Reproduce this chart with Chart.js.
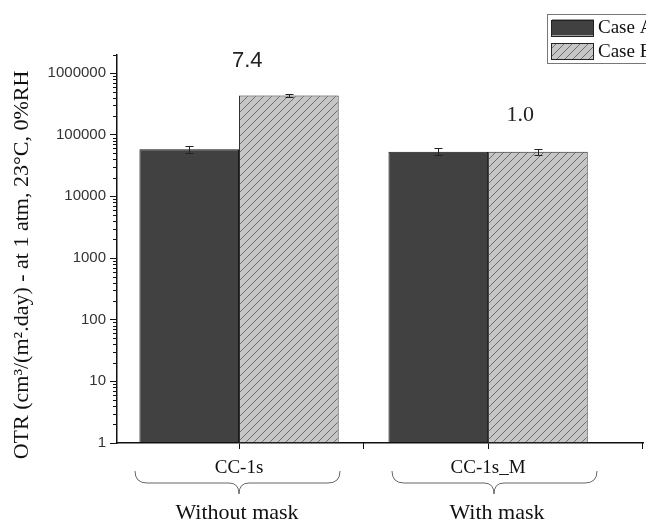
<!DOCTYPE html>
<html>
<head>
<meta charset="utf-8">
<script src="https://cdn.jsdelivr.net/npm/chart.js@4/dist/chart.umd.min.js"></script>
<style>
  body { margin: 0; background: #fff; }
  canvas { display: block; }
</style>
</head>
<body>
<canvas id="chart" width="646" height="522"></canvas>
<script>
// data
const categories = ['CC-1s', 'CC-1s_M'];
const groups = ['Without mask', 'With mask'];
const seriesNames = ['Case A', 'Case B'];
const caseA = [58000, 53000];
const caseB = [430000, 53000];
const caseAErr = [7000, 7000];
const caseBErr = [22000, 6500];
const ratios = ['7.4', '1.0'];
const yTicks = [1, 10, 100, 1000, 10000, 100000, 1000000];
const yTitle = 'OTR (cm³/(m².day) - at 1 atm, 23°C, 0%RH';

const SERIF = '"Liberation Serif", "Times New Roman", serif';
const SANS = '"Liberation Sans", Arial, sans-serif';

function hatch() {
    const c = document.createElement('canvas');
    c.width = 8; c.height = 8;
    const g = c.getContext('2d');
    g.fillStyle = '#c6c6c6';
    g.fillRect(0, 0, 8, 8);
    g.strokeStyle = '#6e6e6e';
    g.lineWidth = 1;
    g.beginPath();
    g.moveTo(-1, 9); g.lineTo(9, -1);
    g.moveTo(-5, 5); g.lineTo(5, -5);
    g.moveTo(3, 13); g.lineTo(13, 3);
    g.stroke();
    return g.createPattern(c, 'repeat');
}

const pattern = hatch();

function points(vals) {
    return vals.map((v, i) => ({ x: i + 1, y: v }));
}

const extras = {
    id: 'extras',
    afterDatasetsDraw(chart) {
        const ctx = chart.ctx;
        const y = chart.scales.y;
        ctx.save();
        ctx.strokeStyle = '#222';
        ctx.lineWidth = 1;
        chart.data.datasets.forEach((ds, di) => {
            chart.getDatasetMeta(di).data.forEach((bar, i) => {
                const v = ds.data[i].y, e = ds.err[i];
                const t = Math.round(y.getPixelForValue(v + e)) + 0.5;
                const b = Math.round(y.getPixelForValue(v - e)) + 0.5;
                const cx = Math.round(bar.x) + 0.5;
                ctx.beginPath();
                ctx.moveTo(cx, t); ctx.lineTo(cx, b);
                ctx.moveTo(cx - 4, t); ctx.lineTo(cx + 4, t);
                ctx.moveTo(cx - 4, b); ctx.lineTo(cx + 4, b);
                ctx.stroke();
            });
        });
        ctx.restore();
    },
    afterDraw(chart) {
        const ctx = chart.ctx;
        const x = chart.scales.x, y = chart.scales.y;
        const area = chart.chartArea;
        ctx.save();

        // minor log ticks on y axis
        ctx.strokeStyle = '#111';
        ctx.lineWidth = 1;
        ctx.beginPath();
        for (let d = 0; d < 7; d++) {
            for (let m = 2; m <= 9; m++) {
                const v = m * Math.pow(10, d);
                if (v > y.max) continue;
                const py = Math.round(y.getPixelForValue(v)) + 0.5;
                ctx.moveTo(area.left - 4, py); ctx.lineTo(area.left, py);
            }
        }
        ctx.moveTo(area.left - 4, area.top + 0.5); ctx.lineTo(area.left, area.top + 0.5);
        // extra x ticks
        [1.5, x.max].forEach(v => {
            const px = Math.round(x.getPixelForValue(v)) - 0.5;
            ctx.moveTo(px, area.bottom); ctx.lineTo(px, area.bottom + 6);
        });
        ctx.stroke();

        // ratio labels
        ctx.fillStyle = '#222';
        ctx.textAlign = 'center';
        ctx.textBaseline = 'middle';
        ctx.font = '22px ' + SANS;
        ctx.fillText(ratios[0], x.getPixelForValue(1.033), 61);
        ctx.font = '22px ' + SERIF;
        ctx.fillText(ratios[1], x.getPixelForValue(2.129), 115);

        // braces and group labels
        ctx.strokeStyle = '#666';
        ctx.lineWidth = 1;
        const braces = [[135, 340, 239], [392, 597, 494]];
        braces.forEach(([l, r, m], i) => {
            const top = 471, mid = 483, tip = 494;
            ctx.beginPath();
            ctx.moveTo(l, top);
            ctx.quadraticCurveTo(l, mid, l + 12, mid);
            ctx.lineTo(m - 10, mid);
            ctx.quadraticCurveTo(m, mid, m, tip);
            ctx.quadraticCurveTo(m, mid, m + 10, mid);
            ctx.lineTo(r - 12, mid);
            ctx.quadraticCurveTo(r, mid, r, top);
            ctx.stroke();
        });
        ctx.fillStyle = '#111';
        ctx.font = '22px ' + SERIF;
        ctx.fillText(groups[0], 237, 513);
        ctx.fillText(groups[1], 497, 513);

        // y title
        ctx.save();
        ctx.translate(22, 265);
        ctx.rotate(-Math.PI / 2);
        ctx.font = '22px ' + SERIF;
        ctx.fillText(yTitle, 0, 0);
        ctx.restore();

        // legend (runs off the right edge)
        ctx.strokeStyle = '#777';
        ctx.strokeRect(547.5, 14.5, 130, 49);
        const fills = ['#414141', pattern];
        seriesNames.forEach((name, i) => {
            const sy = 19.5 + i * 23.5;
            ctx.fillStyle = fills[i];
            ctx.fillRect(552, sy, 42, 16);
            ctx.strokeStyle = '#222';
            ctx.strokeRect(551.5, Math.round(sy) + 0.5, 42, 16);
            ctx.fillStyle = '#111';
            ctx.textAlign = 'left';
            ctx.font = '19px ' + SERIF;
            ctx.fillText(name, 598, sy + 9);
        });
        ctx.restore();
    }
};

new Chart(document.getElementById('chart'), {
    type: 'bar',
    data: {
        datasets: [
            {
                label: seriesNames[0],
                data: points(caseA),
                err: caseAErr,
                backgroundColor: '#414141',
                borderColor: '#111',
                borderWidth: 1,
                borderSkipped: false
            },
            {
                label: seriesNames[1],
                data: points(caseB),
                err: caseBErr,
                backgroundColor: pattern,
                borderColor: '#222',
                borderWidth: 1,
                borderSkipped: false
            }
        ]
    },
    options: {
        responsive: false,
        animation: false,
        events: [],
        layout: { padding: { top: 55, right: 3, left: 0, bottom: 0 } },
        datasets: { bar: { categoryPercentage: 0.8, barPercentage: 1 } },
        plugins: { legend: { display: false }, tooltip: { enabled: false } },
        scales: {
            x: {
                type: 'linear',
                min: 0.51,
                max: 2.622,
                offset: false,
                afterFit: s => { s.height = 79; },
                border: { color: '#111', width: 1.5 },
                grid: { offset: false, drawOnChartArea: false, drawTicks: true, tickLength: 6, tickColor: '#111' },
                ticks: {
                    stepSize: 1,
                    includeBounds: false,
                    autoSkip: false,
                    maxRotation: 0,
                    padding: 8,
                    color: '#111',
                    font: { family: SERIF, size: 19 },
                    callback: v => categories[v - 1] || ''
                }
            },
            y: {
                type: 'logarithmic',
                min: 1,
                max: 1960000,
                afterFit: s => { s.width = 117; },
                afterBuildTicks: s => { s.ticks = yTicks.map(v => ({ value: v, major: true })); },
                border: { color: '#111', width: 1.5 },
                grid: { drawOnChartArea: false, drawTicks: true, tickLength: 7, tickColor: '#111' },
                ticks: {
                    padding: 4,
                    color: '#333',
                    font: { family: SANS, size: 15 },
                    callback: v => String(v)
                }
            }
        }
    },
    plugins: [extras]
});
</script>
</body>
</html>
